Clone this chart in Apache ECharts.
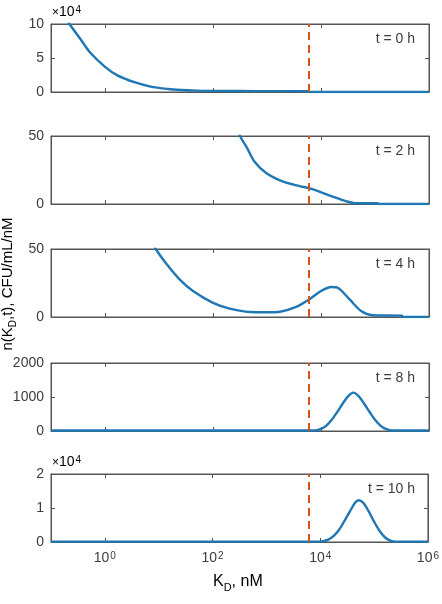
<!DOCTYPE html>
<html>
<head>
<meta charset="utf-8">
<title>n(KD,t)</title>
<script src="https://cdn.jsdelivr.net/npm/echarts@6/dist/echarts.min.js"></script>
<style>
  html, body { margin: 0; padding: 0; background: #fff; }
  #chart { width: 442px; height: 604px; }
</style>
</head>
<body>
<div id="chart"></div>
<script>
  // panel labels and y ranges
  let panelLabels = ['t = 0 h', 't = 2 h', 't = 4 h', 't = 8 h', 't = 10 h'];
  let yMax = [100000, 50, 50, 2000, 20000];
  let yStep = [50000, 50, 50, 1000, 10000];
  let xTickValues = [1, 100, 10000];
  let xLabelValues = [1, 100, 10000, 1000000];
  let thresholdKd = 6000;

  // KD (nM) and n(KD,t)
  let kd0 = [0.16, 0.22, 0.35, 0.53, 1, 1.7, 3.5, 7, 14.5, 25, 50, 100, 316, 1000, 5900, 6100, 1000000];
  let n0 = [118000, 100000, 78000, 58000, 37000, 24500, 14400, 8000, 4500, 3000, 2000, 1600, 1400, 1300, 1200, 0, 0];

  let kd2 = [251, 316, 417, 589, 977, 2000, 4000, 6166, 9550, 16600, 29500, 44700, 112000, 115000, 1000000];
  let n2 = [62, 50, 42, 31, 22.6, 16.4, 13.2, 11.5, 9, 5.4, 2, 0.5, 0.5, 0, 0];

  let kd4 = [6.3, 8.7, 13.8, 24, 42.7, 100, 204, 479, 1000, 1740, 3470, 6030, 10000, 15500, 20400, 33900, 56200, 91200, 316000, 330000, 1000000];
  let n4 = [60, 50, 38.9, 27.7, 19.1, 10.4, 6.2, 3.7, 3.5, 3.9, 7.4, 12.9, 19.1, 22.1, 21.5, 12.9, 4.2, 1.3, 1, 0, 0];

  let kd8 = [0.1, 7900, 10000, 12600, 15800, 20000, 25100, 31600, 39800, 50100, 63100, 79400, 100000, 126000, 158000, 200000, 1000000];
  let n8 = [15, 15, 60, 160, 330, 560, 800, 1020, 1130, 1020, 800, 560, 330, 160, 60, 15, 15];

  let kd10 = [0.1, 10000, 11200, 14100, 17800, 22400, 28200, 35500, 44700, 51300, 63100, 79400, 100000, 126000, 158000, 200000, 251000, 1000000];
  let n10 = [120, 120, 250, 700, 1800, 3600, 6200, 9000, 11600, 12300, 11500, 9000, 6000, 3300, 1400, 400, 120, 120];

  let kdList = [kd0, kd2, kd4, kd8, kd10];
  let nList = [n0, n2, n4, n8, n10];

  let textColor = '#3c3c3c';
  let axisColor = '#555';
  let font = 'Liberation Sans, Arial, sans-serif';
  let supRich = {
    b: { fontSize: 14, fontFamily: font, color: textColor, lineHeight: 14, verticalAlign: 'bottom' },
    s: { fontSize: 10, fontFamily: font, color: textColor, lineHeight: 10, verticalAlign: 'top', padding: [0, 0, 8, 1] },
    x: { fontSize: 12, fontFamily: font, color: '#777', lineHeight: 14, verticalAlign: 'bottom' }
  };

  let tops = [24, 136, 249, 363, 474];
  let plotH = 68;

  let grids = [], xAxes = [], yAxes = [], series = [], graphics = [];

  function tickStyle(extra) {
    let t = { show: true, inside: true, length: 4, lineStyle: { color: axisColor, width: 1 } };
    if (extra) t.customValues = extra;
    return t;
  }

  for (let i = 0; i < 5; i++) {
    grids.push({ left: 51, right: 13, top: tops[i], height: plotH, show: true, borderColor: axisColor, borderWidth: 1, backgroundColor: '#fff' });
    let last = i === 4;
    // bottom x axis
    xAxes.push({
      type: 'log', logBase: 10, gridIndex: i, min: 0.1, max: 1000000, position: 'bottom',
      axisLine: { show: true, onZero: false, lineStyle: { color: axisColor, width: 1 } },
      axisTick: tickStyle(xTickValues),
      axisLabel: {
        show: last, margin: 9, customValues: xLabelValues, rich: supRich,
        formatter: function (v) { return '{b|10}{s|' + Math.round(Math.log10(v)) + '}'; }
      },
      splitLine: { show: false }, minorTick: { show: false }
    });
    // top x axis, ticks only
    xAxes.push({
      type: 'log', logBase: 10, gridIndex: i, min: 0.1, max: 1000000, position: 'top',
      axisLine: { show: true, onZero: false, lineStyle: { color: axisColor, width: 1 } },
      axisTick: tickStyle(xTickValues),
      axisLabel: { show: false }, splitLine: { show: false }
    });
    yAxes.push({
      type: 'value', gridIndex: i, min: 0, max: yMax[i], interval: yStep[i], position: 'left',
      axisLine: { show: true, onZero: false, lineStyle: { color: axisColor, width: 1 } },
      axisTick: tickStyle(),
      axisLabel: {
        margin: 7, color: textColor, fontSize: 14, fontFamily: font,
        formatter: function (v) { return (i === 0 || i === 4) ? String(v / 10000) : String(v); }
      },
      splitLine: { show: false }
    });
    yAxes.push({
      type: 'value', gridIndex: i, min: 0, max: yMax[i], interval: yStep[i], position: 'right',
      axisLine: { show: true, onZero: false, lineStyle: { color: axisColor, width: 1 } },
      axisTick: tickStyle(),
      axisLabel: { show: false }, splitLine: { show: false }
    });

    let pts = kdList[i].map(function (k, j) { return [k, nList[i][j]]; });
    series.push({
      type: 'line', xAxisIndex: i * 2, yAxisIndex: i * 2, data: pts,
      symbol: 'none', smooth: 0.3, clip: true,
      lineStyle: { color: '#1f77b4', width: 2.4 },
      markLine: {
        silent: true, symbol: ['none', 'none'], label: { show: false },
        lineStyle: { color: '#D95319', type: [8, 5], width: 2 },
        data: [{ xAxis: thresholdKd }]
      },
      z: 3
    });

    graphics.push({
      type: 'text', right: 442 - 415, top: tops[i] + 8,
      style: { text: panelLabels[i], fill: textColor, font: '14px ' + font }
    });
  }

  // x10^4 multipliers
  [0, 4].forEach(function (i) {
    graphics.push({
      type: 'text', left: 52, top: tops[i] - 19,
      style: { text: '{x|×}{b|10}{s|4}', rich: supRich }
    });
  });

  // axis titles
  graphics.push({
    type: 'text', left: 213, top: 574,
    style: { text: '{t|K}{d|D}{t|, nM}', rich: {
      t: { fontSize: 16, fontFamily: font, color: textColor, lineHeight: 16, verticalAlign: 'top' },
      d: { fontSize: 11, fontFamily: font, color: textColor, lineHeight: 11, verticalAlign: 'top', padding: [8, 0, 0, 0] }
    } }
  });
  graphics.push({
    type: 'text', x: 8, y: 284, rotation: Math.PI / 2,
    style: {
      text: '{t|n(K}{d|D}{t|,t), CFU/mL/nM}', align: 'center', verticalAlign: 'middle',
      rich: {
        t: { fontSize: 15, fontFamily: font, color: textColor, lineHeight: 15, verticalAlign: 'top' },
        d: { fontSize: 10, fontFamily: font, color: textColor, lineHeight: 10, verticalAlign: 'top', padding: [8, 0, 0, 0] }
      }
    }
  });

  let chart = echarts.init(document.getElementById('chart'));
  chart.setOption({
    animation: false,
    backgroundColor: '#fff',
    grid: grids,
    xAxis: xAxes,
    yAxis: yAxes,
    series: series,
    graphic: graphics
  });
</script>
</body>
</html>
